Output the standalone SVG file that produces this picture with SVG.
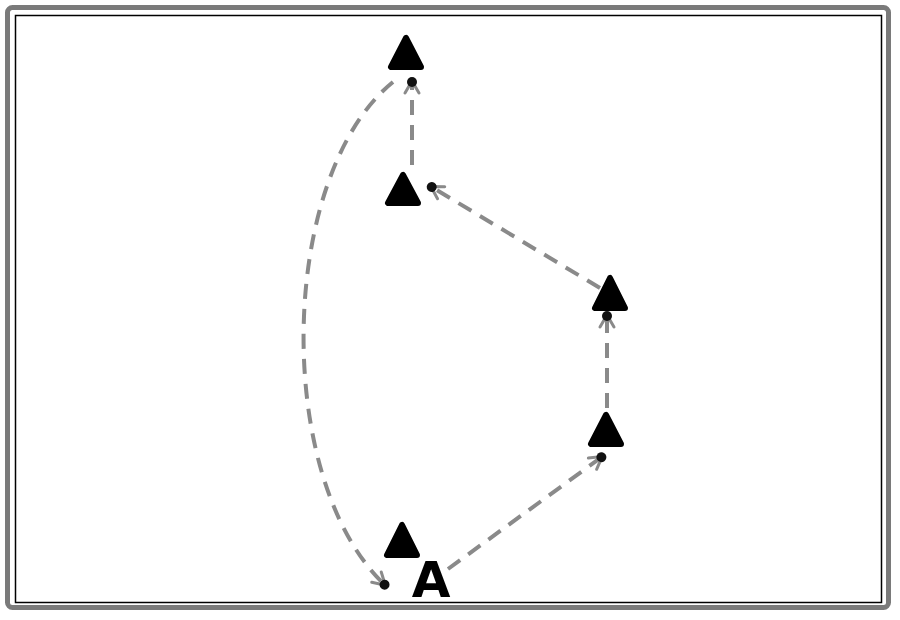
<svg xmlns="http://www.w3.org/2000/svg" width="900" height="620" viewBox="0 0 900 620">
<style>
.tri{fill:#000;stroke:#000;stroke-width:6;stroke-linejoin:round}
.edge{fill:none;stroke:#8a8a8a;stroke-width:4;stroke-dasharray:15 10;marker-end:url(#ah)}
.lbl{font-family:"DejaVu Sans","Liberation Sans",Arial,sans-serif;font-weight:bold;font-size:50px;fill:#000}
</style>
<defs>
<marker id="ah" markerUnits="userSpaceOnUse" viewBox="0 0 20 20" refX="16" refY="10" markerWidth="20" markerHeight="20" orient="auto">
<path d="M3 3 L15 10 L3 17" fill="none" stroke="#8a8a8a" stroke-width="3" stroke-linecap="round"/>
<circle cx="14" cy="10" r="5" fill="#111"/>
</marker>
</defs>
<rect x="0" y="0" width="900" height="620" fill="#fff"/>
<rect x="7.5" y="7.5" width="881" height="600" rx="5" fill="none" stroke="#7a7a7a" stroke-width="5"/>
<rect x="15.5" y="15.5" width="866" height="587" fill="none" stroke="#000" stroke-width="1.5"/>
<g id="connectors">
<path class="edge" d="M412 165 L412 80"/>
<path class="edge" d="M600 288 L430 186"/>
<path class="edge" d="M607 408 L607 314"/>
<path class="edge" d="M448 569 L603 456"/>
<path class="edge" d="M393 82 C278 175 272 480 386 586"/>
</g>
<g id="n1"><polygon class="tri" points="406,38 391,67 421,67"/></g>
<g id="n2"><polygon class="tri" points="403,175 388,203 418,203"/></g>
<g id="n3"><polygon class="tri" points="610,278 595,308 625,308"/></g>
<g id="n4"><polygon class="tri" points="606,415 591,444 621,444"/></g>
<g id="n5"><polygon class="tri" points="402,525 387,555 417,555"/></g>
<g id="nA"><text class="lbl" x="431" y="597" text-anchor="middle">A</text></g>
</svg>
